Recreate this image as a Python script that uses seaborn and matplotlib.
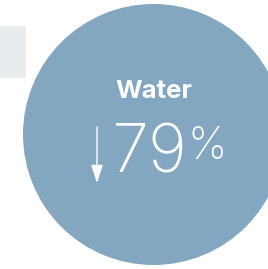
import matplotlib.pyplot as plt
import matplotlib.patches as mpatches
import seaborn as sns

# Data
label = "Water"
change_pct = 79
direction = "down"

sns.set_theme(style="white")
plt.rcParams["font.family"] = ["Inter", "DejaVu Sans"]

W, H = 268, 269
fig = plt.figure(figsize=(W / 100, H / 100), dpi=100)
ax = fig.add_axes([0, 0, 1, 1])
ax.set_xlim(0, W)
ax.set_ylim(H, 0)
ax.set_axis_off()

# light grey card behind the bubble
ax.add_patch(mpatches.Rectangle((0, 26), 26, 52, color="#E8ECEF", lw=0, zorder=1))

# bubble
cx, cy, r = 153.5, 134.5, 130.5
ax.add_patch(mpatches.Circle((cx, cy), r, color="#83A6C1", lw=0, zorder=2))

ax.text(cx, 91, label, ha="center", va="center", color="white",
        fontsize=18.5, fontweight="bold", zorder=3)
ax.text(149, 155, f"{change_pct}", ha="center", va="center", color="white",
        fontsize=48, fontweight=200, zorder=3)
ax.text(187, 126, "%", ha="left", va="top", color="white",
        fontsize=32, fontweight=200, zorder=3)

# arrow
if direction == "down":
    ax.annotate("", xy=(97, 183), xytext=(97, 127),
                arrowprops=dict(arrowstyle="-|>,head_length=1.1,head_width=0.36",
                                mutation_scale=10, color="white", lw=1.0,
                                shrinkA=0, shrinkB=0),
                zorder=3)

fig.savefig("out.png", dpi=100)
